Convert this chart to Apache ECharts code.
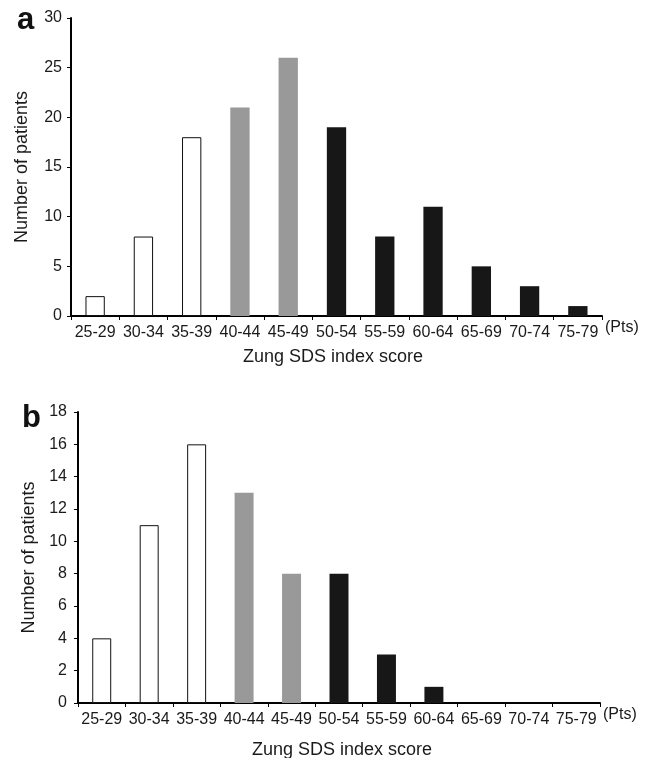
<!DOCTYPE html>
<html>
<head>
<meta charset="utf-8">
<script src="https://cdn.jsdelivr.net/npm/echarts@6/dist/echarts.min.js"></script>
<style>
html,body{margin:0;padding:0;background:#fff;}
#chart{width:650px;height:758px;}
</style>
</head>
<body>
<div id="chart"></div>
<script>
var categories = ['25-29','30-34','35-39','40-44','45-49','50-54','55-59','60-64','65-69','70-74','75-79'];
var groups = ['low','low','low','mid','mid','high','high','high','high','high','high'];
var valuesA = [2, 8, 18, 21, 26, 19, 8, 11, 5, 3, 1];
var valuesB = [4, 11, 16, 13, 8, 8, 3, 1, 0, 0, 0];
var yTicksA = {min: 0, max: 30, interval: 5};
var yTicksB = {min: 0, max: 18, interval: 2};

var FONT = 'Liberation Sans, Arial, sans-serif';
var groupStyle = {
  low:  {color: '#ffffff', borderColor: '#111111', borderWidth: 1},
  mid:  {color: '#999999', borderWidth: 0},
  high: {color: '#171717', borderWidth: 0}
};

function buildData(values) {
  return values.map(function (v, i) {
    return {value: v, itemStyle: groupStyle[groups[i]]};
  });
}

function xAxisFor(gridIndex) {
  return {
    type: 'category',
    gridIndex: gridIndex,
    data: categories,
    boundaryGap: true,
    name: '(Pts)',
    nameLocation: 'end',
    nameGap: 3,
    nameTextStyle: {fontFamily: FONT, fontSize: 16, color: '#1a1a1a', verticalAlign: 'top', padding: [4, 0, 0, 0]},
    axisLine: {show: true, lineStyle: {color: '#000', width: 2}},
    axisTick: {show: true, length: 4, alignWithLabel: false, lineStyle: {color: '#000', width: 1}},
    axisLabel: {fontFamily: FONT, fontSize: 16, color: '#1a1a1a', margin: 9, interval: 0},
    splitLine: {show: false}
  };
}

function yAxisFor(gridIndex, ticks, margin) {
  return {
    type: 'value',
    gridIndex: gridIndex,
    min: ticks.min,
    max: ticks.max,
    interval: ticks.interval,
    name: 'Number of patients',
    nameLocation: 'middle',
    nameGap: 40,
    nameTextStyle: {fontFamily: FONT, fontSize: 18, color: '#1a1a1a'},
    axisLine: {show: true, lineStyle: {color: '#000', width: 2}},
    axisTick: {show: true, length: 4, inside: false, lineStyle: {color: '#000', width: 1}},
    axisLabel: {fontFamily: FONT, fontSize: 16, color: '#1a1a1a', margin: margin},
    splitLine: {show: false}
  };
}

var chart = echarts.init(document.getElementById('chart'), null, {renderer: 'canvas'});
chart.setOption({
  backgroundColor: '#ffffff',
  animation: false,
  grid: [
    {left: 71, top: 18, right: 48, height: 298},
    {left: 78, top: 412, right: 50, height: 291}
  ],
  xAxis: [xAxisFor(0), xAxisFor(1)],
  yAxis: [yAxisFor(0, yTicksA, 9), yAxisFor(1, yTicksB, 11)],
  series: [
    {type: 'bar', xAxisIndex: 0, yAxisIndex: 0, barWidth: '40%', data: buildData(valuesA)},
    {type: 'bar', xAxisIndex: 1, yAxisIndex: 1, barWidth: '40%', data: buildData(valuesB)}
  ],
  graphic: [
    {type: 'text', left: 17, top: 5, style: {text: 'a', font: 'bold 31px ' + FONT, fill: '#111'}},
    {type: 'text', left: 22, top: 403, style: {text: 'b', font: 'bold 31px ' + FONT, fill: '#111'}},
    {type: 'text', left: 243, top: 348, style: {text: 'Zung SDS index score', font: '18px ' + FONT, fill: '#1a1a1a'}},
    {type: 'text', left: 252, top: 741, style: {text: 'Zung SDS index score', font: '18px ' + FONT, fill: '#1a1a1a'}}
  ]
});
</script>
</body>
</html>
